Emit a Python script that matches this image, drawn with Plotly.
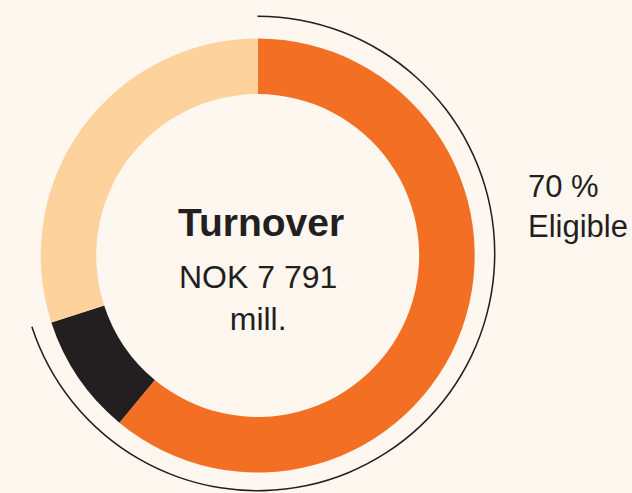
import plotly.graph_objects as go

segments = ["Eligible (aligned)", "Eligible (not aligned)", "Not eligible"]
shares = [61, 9, 30]
colors = ["#F36F23", "#231F20", "#FDD29D"]

eligible_pct = 70
title = "Turnover"
amount = "NOK 7 791<br>mill."

W, H = 632, 493
bg = "#FEF7F0"
font = "Liberation Sans"

fig = go.Figure()

# thin arc showing the eligible share
fig.add_trace(go.Pie(values=[eligible_pct, 100 - eligible_pct], sort=False, direction="clockwise",
                     hole=0.9935, textinfo="none", hoverinfo="skip", showlegend=False,
                     marker=dict(colors=["#231F20", "rgba(0,0,0,0)"], line=dict(width=0)),
                     domain=dict(x=[19.5 / W, 495.5 / W], y=[1.5 / H, 477.5 / H])))

fig.add_trace(go.Pie(labels=segments, values=shares, sort=False, direction="clockwise",
                     hole=0.744, textinfo="none", showlegend=False,
                     marker=dict(colors=colors, line=dict(width=0)),
                     domain=dict(x=[40.7 / W, 474.7 / W], y=[20.5 / H, 454.5 / H])))

fig.add_annotation(x=261 / W, y=1 - 222 / H, xref="paper", yref="paper", text=f"<b>{title}</b>",
                   showarrow=False, font=dict(family=font, size=39, color="#231F20"))
fig.add_annotation(x=258 / W, y=1 - 298 / H, xref="paper", yref="paper", text=amount,
                   showarrow=False, font=dict(family=font, size=32, color="#231F20"))
fig.add_annotation(x=526 / W, y=1 - 207 / H, xref="paper", yref="paper", xanchor="left",
                   text=f"{eligible_pct} %<br>Eligible", align="left",
                   showarrow=False, font=dict(family=font, size=31, color="#231F20"))

fig.update_layout(width=W, height=H, paper_bgcolor=bg, plot_bgcolor=bg,
                  margin=dict(l=0, r=0, t=0, b=0))
fig.write_html("out.html", config=dict(displayModeBar=False),
               post_script="document.body.style.margin='0';")
